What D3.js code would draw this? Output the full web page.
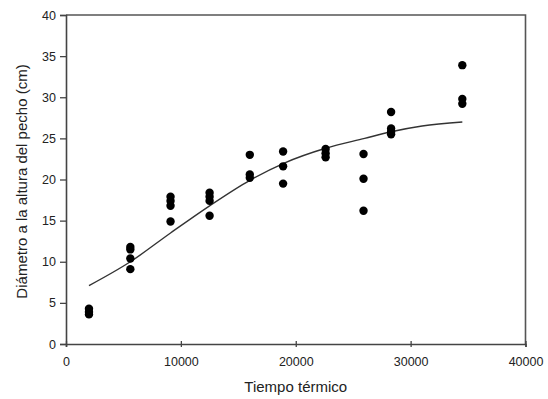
<!DOCTYPE html>
<html>
<head>
<meta charset="utf-8">
<script src="https://cdn.jsdelivr.net/npm/d3@7"></script>
<style>
  html, body { margin: 0; padding: 0; background: #fff; }
  svg { display: block; }
  text { font-family: "Liberation Sans", Arial, sans-serif; fill: #222; }
</style>
</head>
<body>
<svg id="chart" width="548" height="399"></svg>
<script>
// Thermal time of each sampling (degree-days) and the measured diameters at that time
const thermalTime = [2000, 5600, 9100, 12500, 16000, 18900, 22600, 25900, 28300, 34500];
const diameters = [
  [4.3, 3.9, 3.6],
  [11.8, 11.5, 10.4, 9.1],
  [17.9, 17.4, 16.8, 14.9],
  [18.4, 17.9, 17.4, 15.6],
  [23.0, 20.6, 20.2],
  [23.4, 21.6, 19.5],
  [23.7, 23.2, 22.7],
  [23.1, 20.1, 16.2],
  [28.2, 26.2, 25.8, 25.5],
  [33.9, 29.8, 29.2]
];

// Fitted growth curve
const fitTime     = [2000, 5600, 9100, 12500, 16000, 19000, 22600, 26000, 28300, 31000, 34500];
const fitDiameter = [7.1, 10.0, 13.5, 16.8, 19.9, 22.0, 23.8, 25.0, 25.8, 26.5, 27.0];

const xTicks = [0, 10000, 20000, 30000, 40000];
const yTicks = [0, 5, 10, 15, 20, 25, 30, 35, 40];

const xTitle = "Tiempo térmico";
const yTitle = "Diámetro a la altura del pecho (cm)";

const svg = d3.select("#chart");
const plotLeft = 66, plotRight = 525.5, plotTop = 15, plotBottom = 344;

const x = d3.scaleLinear().domain([0, 40000]).range([plotLeft, plotRight]);
const y = d3.scaleLinear().domain([0, 40]).range([plotBottom, plotTop]);

// Plot frame (top and right edges)
svg.append("path")
  .attr("d", `M${plotLeft},${plotTop}H${plotRight}V${plotBottom}`)
  .attr("fill", "none")
  .attr("stroke", "#555")
  .attr("stroke-width", 1.6);

// X axis
const xAxis = svg.append("g")
  .attr("transform", `translate(0,${plotBottom})`)
  .call(d3.axisBottom(x).tickValues(xTicks).tickFormat(d3.format("d")).tickSize(3).tickPadding(10));
xAxis.selectAll("line").attr("y1", -3).attr("stroke", "#444").attr("stroke-width", 1.3);
xAxis.select(".domain").attr("stroke", "#444").attr("stroke-width", 1.6);
xAxis.selectAll("text").style("font-size", "12.5px").style("font-family", "Liberation Sans, Arial, sans-serif").attr("fill", "#222");

// Y axis
const yAxis = svg.append("g")
  .attr("transform", `translate(${plotLeft},0)`)
  .call(d3.axisLeft(y).tickValues(yTicks).tickSize(6).tickPadding(4));
yAxis.selectAll("line").attr("stroke", "#444").attr("stroke-width", 1.3);
yAxis.select(".domain").attr("stroke", "#444").attr("stroke-width", 1.6);
yAxis.selectAll("text").style("font-size", "12.5px").style("font-family", "Liberation Sans, Arial, sans-serif").attr("fill", "#222");

// Fitted curve
const line = d3.line()
  .x((d, i) => x(fitTime[i]))
  .y(d => y(d))
  .curve(d3.curveMonotoneX);
svg.append("path")
  .datum(fitDiameter)
  .attr("d", line)
  .attr("fill", "none")
  .attr("stroke", "#333")
  .attr("stroke-width", 1.4);

// Observations
const points = thermalTime.flatMap((t, i) => diameters[i].map(v => ({ t, v })));
svg.append("g").selectAll("circle")
  .data(points)
  .join("circle")
  .attr("cx", d => x(d.t))
  .attr("cy", d => y(d.v))
  .attr("r", 4.2)
  .attr("fill", "#000");

// Axis titles
svg.append("text")
  .attr("x", (plotLeft + plotRight) / 2)
  .attr("y", 392)
  .attr("text-anchor", "middle")
  .style("font-size", "15px")
  .text(xTitle);

svg.append("text")
  .attr("transform", `translate(27,${(plotTop + plotBottom) / 2 + 2}) rotate(-90)`)
  .attr("text-anchor", "middle")
  .style("font-size", "15px")
  .text(yTitle);
</script>
</body>
</html>
